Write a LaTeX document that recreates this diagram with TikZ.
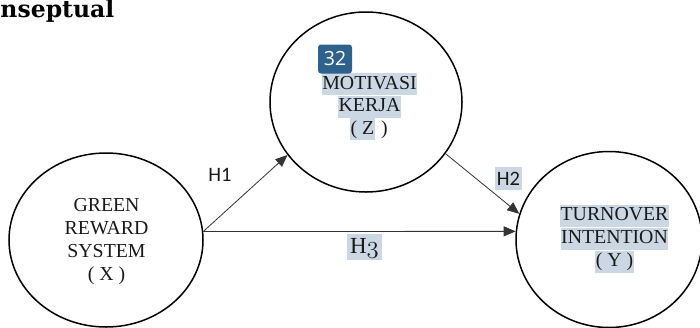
\documentclass[tikz,border=0pt]{standalone}
\usepackage{fontspec}
\newfontfamily\namefont{Liberation Serif}
\newfontfamily\headfont{DejaVu Serif}
\newfontfamily\hypfont{Carlito}
\newfontfamily\badgefont{Open Sans}
\usetikzlibrary{shapes.geometric,arrows.meta}
\definecolor{hl}{RGB}{203,216,228}
\definecolor{badgeblue}{RGB}{46,98,140}
% old-style figure three from the math italic font
\newcommand\oldthree{{\usefont{OML}{cmm}{m}{it}3}}

\begin{document}
\begin{tikzpicture}[x=1bp, y=-1bp,
  construct/.style={draw, ellipse, line width=1.5bp, inner sep=0pt},
  body/.style={font=\namefont\fontsize{19.8bp}{23bp}\selectfont, inner xsep=0.5bp, inner ysep=0pt,
               text height=16bp, text depth=6bp, anchor=base, text=black!90},
  marked/.style={body, fill=hl},
  link/.style={draw=black!80, line width=0.8bp, -{Triangle[length=12bp,width=10bp]}},
  hyp/.style={font=\hypfont\fontsize{20.5bp}{24bp}\selectfont, inner sep=0pt, text=black!90},
]
\path[use as bounding box] (0,0) rectangle (700,327);

% heading
\node[font=\headfont\bfseries\fontsize{23.5bp}{28bp}\selectfont, anchor=base west, inner sep=0pt]
  (title) at (0.3,17.8) {nseptual};

% the three constructs
\node[construct, minimum width=194bp, minimum height=174bp] (x) at (106,240) {};
\node[construct, minimum width=192bp, minimum height=180bp] (z) at (366,102) {};
\node[construct, minimum width=186bp, minimum height=176bp] (y) at (609,239.5) {};

% construct names
\node[body] (x1) at (106.5,211.5) {GREEN};
\node[body] (x2) at (106.5,234.5) {REWARD};
\node[body] (x3) at (106.5,257.5) {SYSTEM};
\node[body] (x4) at (106.5,280.5) {( X )};

\node[marked] (z1) at (369.5,89) {MOTIVASI};
\node[marked] (z2) at (369.5,111.5) {KERJA};
\node[marked, anchor=base west] (z3) at (350,134) {( Z};
\node[body, anchor=base west, inner xsep=0pt] (z4) at (z3.base east) {\hspace{0.3em})};

\node[marked] (y1) at (614.5,220.5) {TURNOVER};
\node[marked] (y2) at (614.5,243.5) {INTENTION};
\node[marked] (y3) at (614.5,266.5) {( Y )};

% page badge
\node[fill=badgeblue, text=white, rounded corners=3bp, minimum width=34bp, minimum height=29bp,
      inner sep=0pt, font=\badgefont\fontsize{19.5bp}{22bp}\selectfont] (badge) at (335,59) {32};

% hypothesised paths
\draw[link] (x.5) -- (z.214);
\draw[link] (z.327) -- (y.164);
\draw[link] (x.5) -- (y.175);

\node[hyp] (h1) at (220,175) {H1};
\node[hyp, fill=hl, minimum width=27bp, minimum height=23bp] (h2) at (508.5,178.5) {H2};
\node[fill=hl, font=\namefont\fontsize{23bp}{26bp}\selectfont, inner xsep=3.5bp, inner ysep=0pt,
      text height=20bp, text depth=6.5bp, anchor=base, text=black!90] (h3) at (364.5,253.5) {H\oldthree};
\end{tikzpicture}
\end{document}
